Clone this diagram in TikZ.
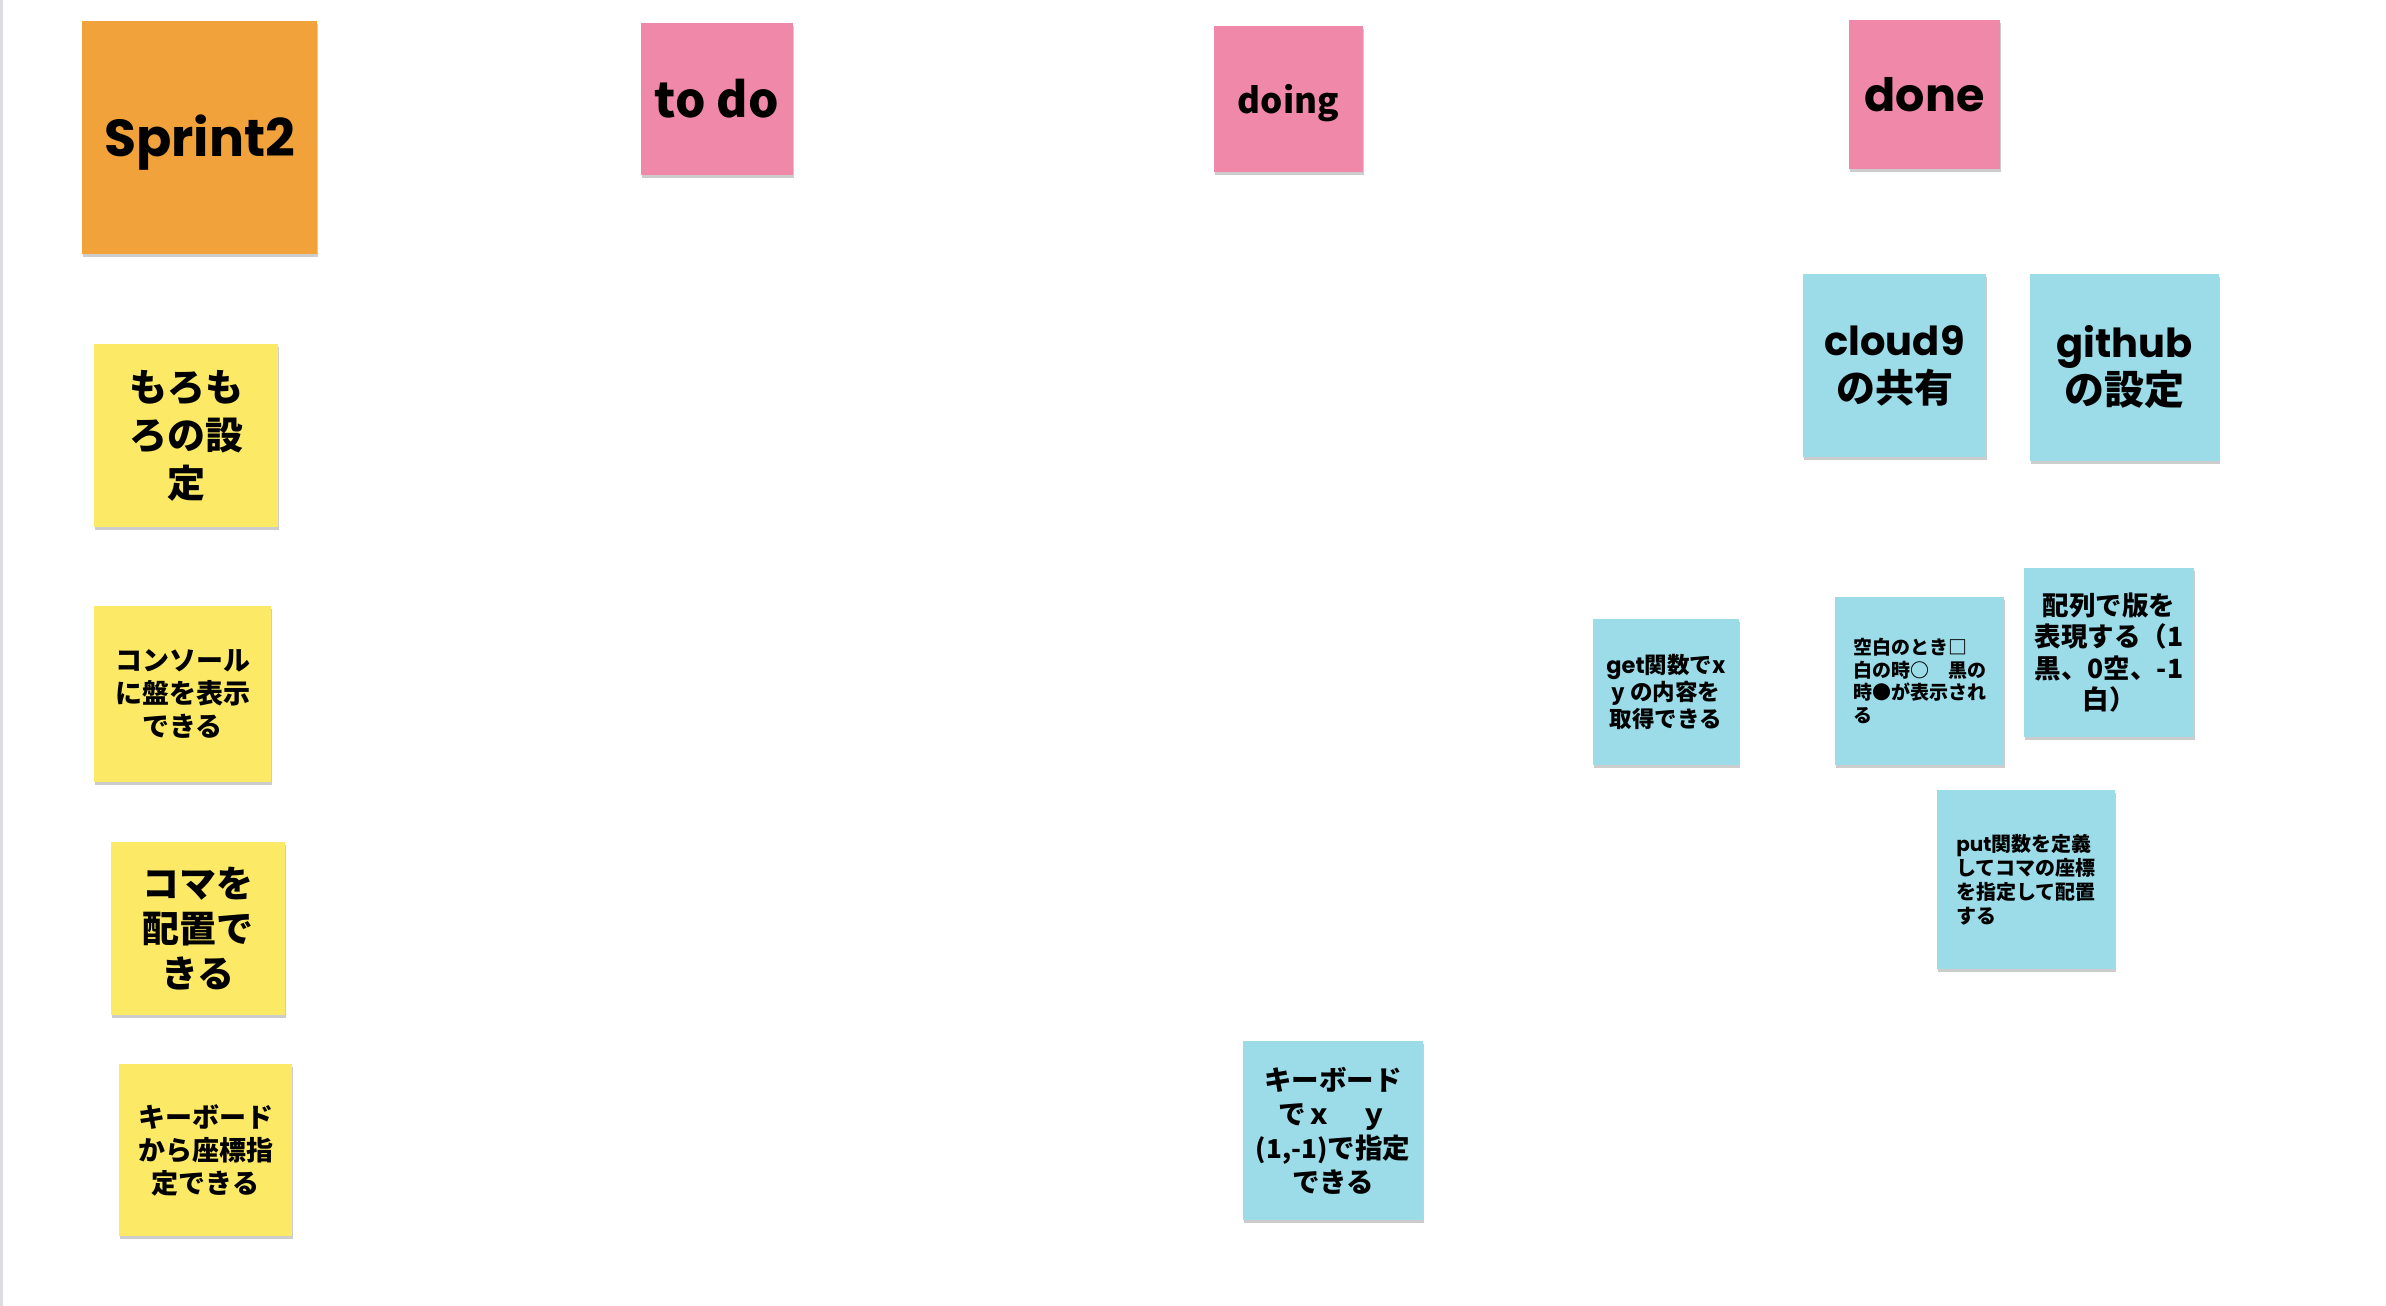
\documentclass[tikz,border=0pt]{standalone}
\usepackage{fontspec}
\usetikzlibrary{shadows}
\newfontfamily\cjk{Noto Sans CJK JP}
\newfontfamily\pop{Poppins}
\newcommand\notesize[2]{\fontsize{#1}{#2}\selectfont}
\definecolor{orangenote}{HTML}{F1A23B}
\definecolor{pinknote}{HTML}{F088A9}
\definecolor{yellownote}{HTML}{FCEA67}
\definecolor{bluenote}{HTML}{9BDCE8}
\definecolor{edgegray}{HTML}{DCDDE1}
\begin{document}
\begin{tikzpicture}[x=1pt,y=-1pt,
  note/.style={rectangle, inner sep=0pt, align=center, text=black,
    drop shadow={shadow xshift=0.5pt, shadow yshift=-3pt, opacity=0.2, fill=black}},
  orangestyle/.style={note, fill=orangenote},
  pinkstyle/.style={note, fill=pinknote},
  yellowstyle/.style={note, fill=yellownote},
  bluestyle/.style={note, fill=bluenote},
  latin/.style={font=\pop\bfseries\notesize{#1}{#1}},
  jp/.style 2 args={font=\cjk\bfseries\notesize{#1}{#2}}
]
\useasboundingbox[fill=white] (0,0) rectangle (2386,1306);
\fill[edgegray] (0,0) rectangle (3,1306);

% headers
\node[orangestyle, minimum width=235pt, minimum height=233pt] (sprint) at (199.5,137.5) {};
\node[inner sep=0pt, latin=52] (sprinttext) at ([yshift=-5pt]sprint.center) {Sprint2};
\node[pinkstyle, minimum width=152pt, minimum height=152pt, jp={48}{48}] (todo) at (717,99) {to do};
\node[pinkstyle, minimum width=149pt, minimum height=146pt] (doing) at (1288.5,99) {};
\node[inner sep=0pt, jp={35}{35}] (doingtext) at ([yshift=-4pt]doing.center) {doing};
\node[pinkstyle, minimum width=151pt, minimum height=149pt, latin=46] (done) at (1924.5,94.5) {done};

% yellow backlog notes
\node[yellowstyle, minimum width=184pt, minimum height=183pt, jp={38}{48}] (moro) at (186,435.5) {もろも\\ろの設\\定};
\node[yellowstyle, minimum width=177pt, minimum height=176pt, jp={27}{33}] (console) at (182.5,694) {コンソール\\に盤を表示\\できる};
\node[yellowstyle, minimum width=174pt, minimum height=173pt, jp={37}{45}] (koma) at (198,928.5) {コマを\\配置で\\きる};
\node[yellowstyle, minimum width=173pt, minimum height=172pt, jp={27}{33}] (kbfrom) at (205.5,1150) {キーボード\\から座標指\\定できる};

% doing
\node[bluestyle, minimum width=180pt, minimum height=179pt, jp={27.5}{34}] (kbxy) at (1333,1130.5) {キーボード\\でｘ　ｙ\\{\notesize{26}{34}(1,-1)}で指定\\できる};

% done
\node[bluestyle, minimum width=183pt, minimum height=183pt, font=\bfseries\notesize{40}{47}] (cloud) at (1894.5,365.5) {{\pop cloud9}\\{\cjk\notesize{39}{47}の共有}};
\node[bluestyle, minimum width=189pt, minimum height=187pt, font=\bfseries\notesize{40}{47}] (github) at (2124.5,367.5) {{\pop github}\\{\cjk の設定}};
\node[bluestyle, minimum width=146pt, minimum height=146pt, jp={22.5}{27}] (getfn) at (1666,692) {{\pop get}関数でx\\y の内容を\\取得できる};
\node[bluestyle, minimum width=169pt, minimum height=168pt, align=left, jp={19}{22.5}] (kuhaku) at (1919.5,681) {空白のとき□\\白の時○　黒の\\時●が表示され\\る};
\node[bluestyle, minimum width=170pt, minimum height=169pt, jp={26.5}{31.5}] (hairetsu) at (2109,652.5) {配列で版を\\表現する（1\\黒、0空、-1\\白）};
\node[bluestyle, minimum width=178pt, minimum height=179pt, align=left, jp={20}{24}] (putfn) at (2026,879.5) {{\pop put}関数を定義\\してコマの座標\\を指定して配置\\する};
\end{tikzpicture}
\end{document}
